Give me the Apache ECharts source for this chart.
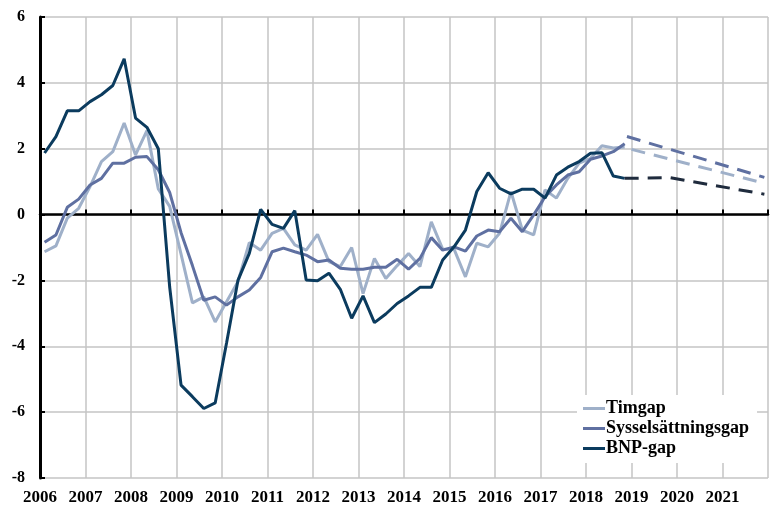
<!DOCTYPE html>
<html>
<head>
<meta charset="utf-8">
<script src="https://cdn.jsdelivr.net/npm/echarts@6/dist/echarts.min.js"></script>
<style>
  html, body { margin: 0; padding: 0; background: #fff; }
  #chart { width: 771px; height: 507px; }
</style>
</head>
<body>
<div id="chart"></div>
<script>
// quarterly data, first point 2006 Q1
const startYear = 2006.1;
const timgap = [-1.13, -0.95, -0.11, 0.19, 0.85, 1.61, 1.91, 2.78, 1.81, 2.55, 0.78, 0.25,
    -1.2, -2.68, -2.5, -3.26, -2.65, -2.04, -0.85, -1.08, -0.57, -0.42, -0.92, -1.08,
    -0.6, -1.43, -1.58, -1.0, -2.4, -1.33, -1.94, -1.55, -1.18, -1.58, -0.22, -1.05,
    -1.05, -1.89, -0.87, -0.98, -0.57, 0.70, -0.47, -0.62, 0.75, 0.50, 1.10, 1.56,
    1.71, 2.09, 2.02, 2.05];
const syssgap = [-0.84, -0.62, 0.22, 0.47, 0.90, 1.10, 1.56, 1.56, 1.74, 1.76, 1.36, 0.67,
    -0.55, -1.55, -2.6, -2.5, -2.75, -2.5, -2.29, -1.91, -1.13, -1.02, -1.13, -1.23,
    -1.43, -1.38, -1.63, -1.66, -1.66, -1.60, -1.60, -1.36, -1.66, -1.33, -0.70, -1.08,
    -0.98, -1.11, -0.65, -0.47, -0.52, -0.11, -0.52, -0.01, 0.54, 0.9, 1.2, 1.30,
    1.68, 1.78, 1.91, 2.15];
const bnpgap = [1.87, 2.37, 3.15, 3.15, 3.43, 3.64, 3.92, 4.73, 2.93, 2.65, 2.0, -2.2,
    -5.18, -5.53, -5.89, -5.72, -3.9, -2.0, -1.18, 0.16, -0.30, -0.42, 0.12, -1.99,
    -2.01, -1.78, -2.27, -3.15, -2.47, -3.28, -3.02, -2.70, -2.47, -2.21, -2.21, -1.38,
    -0.98, -0.47, 0.70, 1.27, 0.80, 0.63, 0.77, 0.77, 0.50, 1.20, 1.44, 1.61,
    1.86, 1.88, 1.17, 1.10];

// forecasts (dashed)
const timProgX = [2019.0, 2021.92];
const timProgY = [1.98, 0.95];
const syssProgX = [2018.9, 2021.92];
const syssProgY = [2.37, 1.13];
const bnpProgX = [2018.85, 2019.85, 2021.92];
const bnpProgY = [1.10, 1.12, 0.62];

const colors = {
    tim: '#9fb0c9',
    syss: '#5f70a1',
    bnp: '#0b3b5e',
    bnpProg: '#1f2b3d',
};
const font = "'Liberation Serif', 'Times New Roman', serif";

const toQuarterPairs = arr => arr.map((v, i) => [startYear + i * 0.25, v]);
const toPairs = (xs, ys) => xs.map((x, i) => [x, ys[i]]);

function lineSeries(name, data, color, dashed) {
    return {
        name: name,
        type: 'line',
        data: data,
        xAxisIndex: 0,
        showSymbol: false,
        symbol: 'none',
        lineStyle: { color: color, width: 3, type: dashed ? [14, 9] : 'solid' },
        itemStyle: { color: color },
        animation: false,
    };
}

const chart = echarts.init(document.getElementById('chart'));
chart.setOption({
    backgroundColor: '#fff',
    animation: false,
    grid: { left: 40, top: 17, width: 735, height: 461 },
    legend: {
        data: ['Timgap', 'Sysselsättningsgap', 'BNP-gap'],
        orient: 'vertical',
        left: 577,
        top: 395,
        padding: [4, 8, 5, 6],
        backgroundColor: '#fff',
        icon: 'rect',
        itemWidth: 22,
        itemHeight: 3,
        itemGap: 1,
        textStyle: { fontFamily: font, fontWeight: 'bold', fontSize: 18, color: '#000', padding: [0, 0, 0, -4], lineHeight: 19 },
    },
    xAxis: [
        {
            type: 'value',
            position: 'bottom',
            min: 2006,
            max: 2022,
            interval: 1,
            axisLine: { show: false, onZero: false },
            axisTick: { show: false },
            splitLine: { show: true, lineStyle: { color: '#c4c4c4', width: 1.5 } },
            axisLabel: {
                fontFamily: font, fontWeight: 'bold', fontSize: 17, color: '#000', margin: 11,
                formatter: v => (v >= 2022 ? '' : String(v)),
            },
        },
        {
            // zero line with ticks
            type: 'value',
            position: 'top',
            min: 2006,
            max: 2022,
            interval: 1,
            axisLine: { show: true, onZero: true, lineStyle: { color: '#000', width: 2.5 } },
            axisTick: { show: true, inside: false, length: 5, lineStyle: { color: '#000', width: 2 } },
            axisLabel: { show: false },
            splitLine: { show: false },
        },
    ],
    yAxis: {
        type: 'value',
        min: -8,
        max: 6,
        interval: 2,
        axisLine: { show: true, lineStyle: { color: '#000', width: 3 } },
        axisTick: { show: true, inside: true, length: 5, lineStyle: { color: '#000', width: 2 } },
        splitLine: { show: true, lineStyle: { color: '#c4c4c4', width: 1.5 } },
        axisLabel: { fontFamily: font, fontWeight: 'bold', fontSize: 16, color: '#000', margin: 15 },
    },
    series: [
        lineSeries('Timgap', toQuarterPairs(timgap), colors.tim, false),
        lineSeries('Sysselsättningsgap', toQuarterPairs(syssgap), colors.syss, false),
        lineSeries('BNP-gap', toQuarterPairs(bnpgap), colors.bnp, false),
        lineSeries('Timgap prognos', toPairs(timProgX, timProgY), colors.tim, true),
        lineSeries('Sysselsättningsgap prognos', toPairs(syssProgX, syssProgY), colors.syss, true),
        lineSeries('BNP-gap prognos', toPairs(bnpProgX, bnpProgY), colors.bnpProg, true),
    ],
});
</script>
</body>
</html>
